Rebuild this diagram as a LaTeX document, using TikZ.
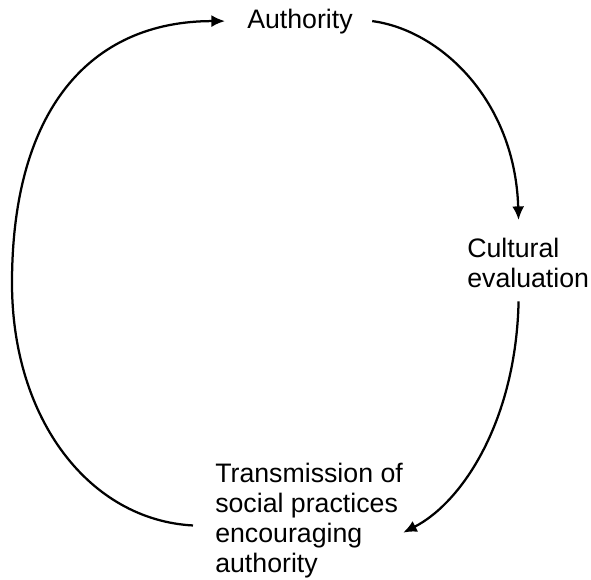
\documentclass[tikz,border=0pt]{standalone}
\usepackage{fontspec}
\setmainfont{Liberation Sans}
\usetikzlibrary{arrows.meta}

\begin{document}
\begin{tikzpicture}[x=0.025cm, y=-0.025cm,
    lbl/.style={inner sep=0pt, align=left, font=\fontsize{19}{21.3}\selectfont},
    arr/.style={-{Latex[length=0.34cm, width=0.3cm]}, line width=1.6pt}]
  \useasboundingbox (0,0) rectangle (591,579);
  \node[lbl, anchor=base] (auth) at (300,28) {Authority};
  \node[lbl, anchor=north west] (cult) at (467,238) {Cultural\\evaluation};
  \node[lbl, anchor=north west] (trans) at (215,463)
    {Transmission of\\social practices\\encouraging\\authority};
  % authority -> cultural evaluation
  \draw[arr] ([xshift=0.48cm]auth.east) .. controls (440,30) and (515,100)
    .. ([xshift=-0.24cm, yshift=0.45cm]cult.north);
  % cultural evaluation -> transmission
  \draw[arr] ([xshift=-0.24cm, yshift=-0.33cm]cult.south) .. controls (516,420) and (463,502)
    .. ([yshift=-0.3cm]trans.east);
  % transmission -> authority
  \draw[arr] ([xshift=-0.55cm, yshift=-0.12cm]trans.west) .. controls (90,520) and (12,420)
    .. (12,283) .. controls (12,110) and (90,21) .. ([xshift=-0.55cm]auth.west);
\end{tikzpicture}
\end{document}
